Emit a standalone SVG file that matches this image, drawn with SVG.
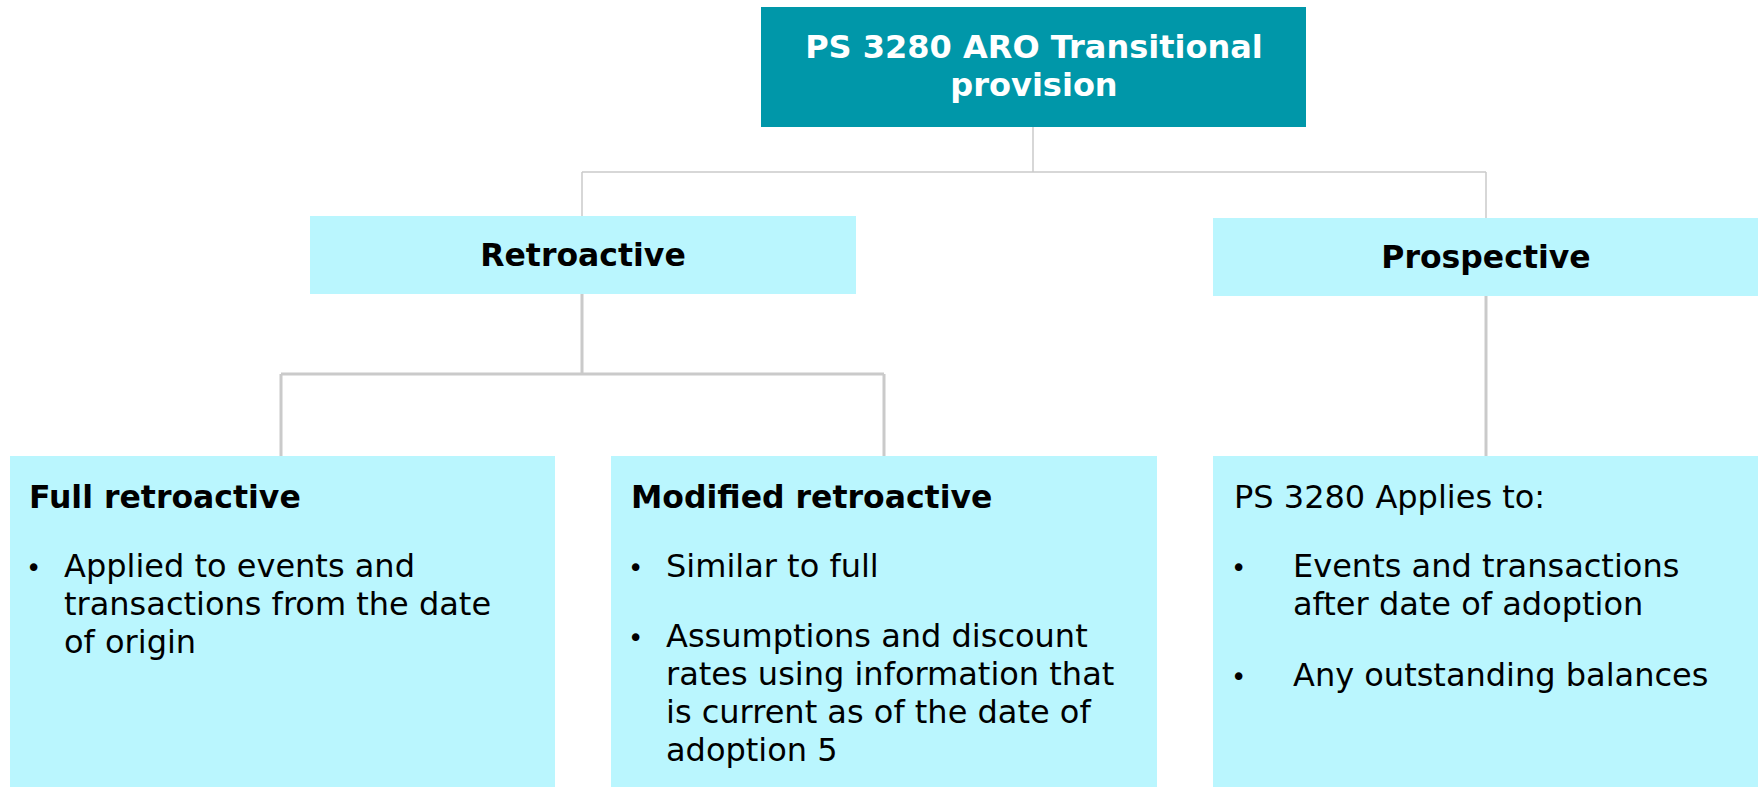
<svg xmlns="http://www.w3.org/2000/svg" width="1761" height="787" viewBox="0 0 1761 787">
  <style>
    .root { fill: #0097A9; }
    .box { fill: #BAF6FE; }
    .link-thin { stroke: #CACACA; stroke-width: 1.5; fill: none; }
    .link { stroke: #CACACA; stroke-width: 3; fill: none; }
    text { font-family: "DejaVu Sans", Verdana, sans-serif; fill: #000; }
    .head { font-weight: bold; font-size: 31.5px; }
    .title { font-weight: bold; font-size: 32px; fill: #fff; }
    .body { font-size: 32px; }
    .dot { font-size: 26px; }
  </style>
  <rect width="1761" height="787" fill="#fff"/>

  <g id="connectors">
    <path class="link-thin" d="M1033 127 V172 M582 172 H1486 M582 172 V216 M1486 172 V218"/>
    <path class="link" d="M582 294 V374 M281 374 H884 M281 374 V456 M884 374 V456"/>
    <path class="link" d="M1486 296 V456"/>
  </g>

  <g id="node-root">
    <rect class="root" x="761" y="7" width="545" height="120"/>
    <text class="title" x="1034" y="58" text-anchor="middle">PS 3280 ARO Transitional</text>
    <text class="title" x="1034" y="96" text-anchor="middle">provision</text>
  </g>

  <g id="node-retroactive">
    <rect class="box" x="310" y="216" width="546" height="78"/>
    <text class="head" x="583" y="266" text-anchor="middle">Retroactive</text>
  </g>

  <g id="node-prospective">
    <rect class="box" x="1213" y="218" width="545" height="78"/>
    <text class="head" x="1486" y="268" text-anchor="middle">Prospective</text>
  </g>

  <g id="node-full">
    <rect class="box" x="10" y="456" width="545" height="331"/>
    <text class="head" x="29" y="508">Full retroactive</text>
    <text class="dot" x="26" y="577">•</text>
    <text class="body" x="64" y="577">Applied to events and</text>
    <text class="body" x="64" y="615">transactions from the date</text>
    <text class="body" x="64" y="653">of origin</text>
  </g>

  <g id="node-modified">
    <rect class="box" x="611" y="456" width="546" height="331"/>
    <text class="head" x="631" y="508">Modified retroactive</text>
    <text class="dot" x="628" y="577">•</text>
    <text class="body" x="666" y="577">Similar to full</text>
    <text class="dot" x="628" y="647">•</text>
    <text class="body" x="666" y="647">Assumptions and discount</text>
    <text class="body" x="666" y="685">rates using information that</text>
    <text class="body" x="666" y="723">is current as of the date of</text>
    <text class="body" x="666" y="761">adoption 5</text>
  </g>

  <g id="node-applies">
    <rect class="box" x="1213" y="456" width="545" height="331"/>
    <text class="body" x="1234" y="508">PS 3280 Applies to:</text>
    <text class="dot" x="1231" y="577">•</text>
    <text class="body" x="1293" y="577">Events and transactions</text>
    <text class="body" x="1293" y="615">after date of adoption</text>
    <text class="dot" x="1231" y="686">•</text>
    <text class="body" x="1293" y="686">Any outstanding balances</text>
  </g>
</svg>
